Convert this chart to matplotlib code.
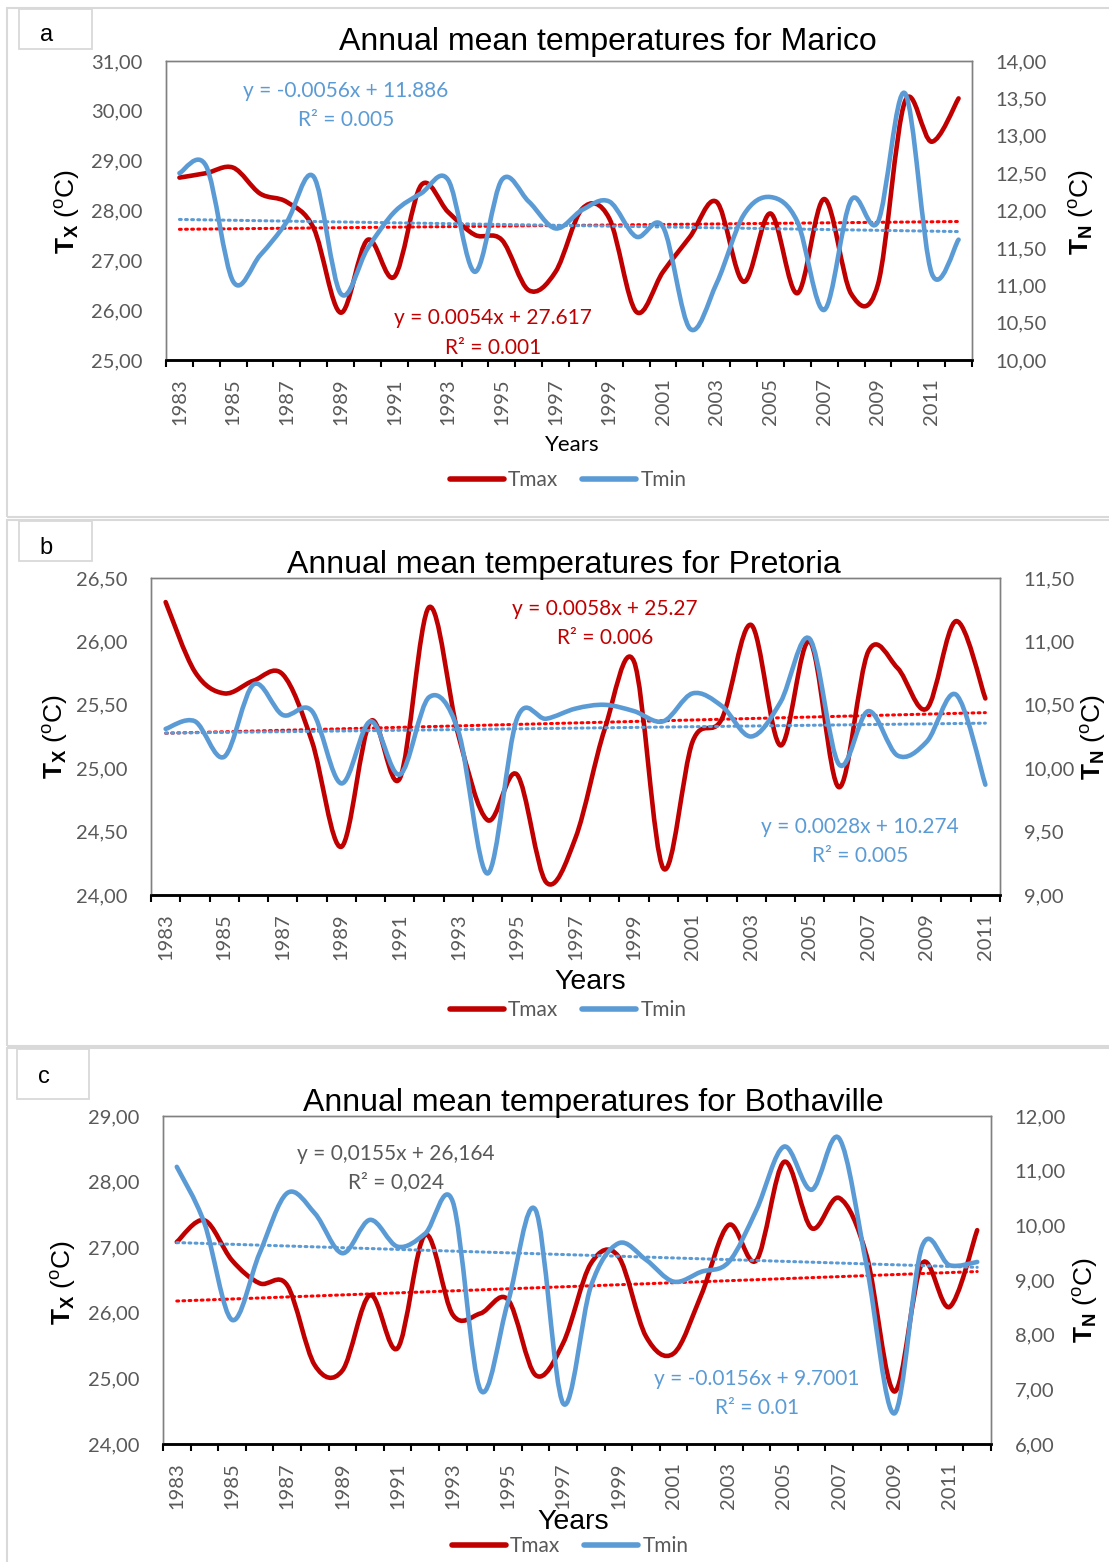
import numpy as np
import matplotlib
matplotlib.use('Agg')
import matplotlib.pyplot as plt
from matplotlib.path import Path
from matplotlib.patches import PathPatch, Rectangle
from matplotlib.lines import Line2D

plt.rcParams['font.family'] = ['Lato', 'DejaVu Sans']
plt.rcParams['mathtext.fontset'] = 'custom'
plt.rcParams['mathtext.rm'] = 'Liberation Sans'
plt.rcParams['mathtext.bf'] = 'Liberation Sans:bold'
plt.rcParams['mathtext.it'] = 'Liberation Sans:italic'

# ---------------- data ----------------
years_a = list(range(1983, 2013))
tmax_a = [28.66, 28.75, 28.86, 28.34, 28.17, 27.64, 25.95, 27.41, 26.67, 28.51,
          27.97, 27.51, 27.41, 26.40, 26.77, 28.04, 27.84, 25.97, 26.77, 27.47,
          28.17, 26.57, 27.94, 26.34, 28.23, 26.33, 26.52, 30.18, 29.38, 30.25]
tmin_a = [12.50, 12.59, 11.05, 11.40, 11.85, 12.45, 10.89, 11.49, 11.98, 12.23,
          12.41, 11.18, 12.41, 12.12, 11.76, 12.01, 12.12, 11.65, 11.78, 10.42,
          11.03, 11.94, 12.18, 11.85, 10.67, 12.14, 11.85, 13.57, 11.16, 11.61]
trend_max_a = (0.0054, 27.617)
trend_min_a = (-0.0056, 11.886)

years_b = list(range(1983, 2012))
tmax_b = [26.31, 25.76, 25.59, 25.69, 25.74, 25.21, 24.38, 25.37, 24.92, 26.27,
          25.26, 24.59, 24.95, 24.10, 24.45, 25.31, 25.84, 24.21, 25.21, 25.39,
          26.13, 25.18, 26.00, 24.85, 25.92, 25.79, 25.47, 26.16, 25.55]
tmin_b = [10.31, 10.37, 10.09, 10.66, 10.42, 10.45, 9.88, 10.37, 9.95, 10.56,
          10.29, 9.17, 10.39, 10.39, 10.47, 10.50, 10.45, 10.37, 10.59, 10.49,
          10.25, 10.52, 11.02, 10.03, 10.45, 10.10, 10.21, 10.58, 9.87]
trend_max_b = (0.0058, 25.27)
trend_min_b = (0.0028, 10.274)

years_c = list(range(1983, 2013))
tmax_c = [27.08, 27.41, 26.80, 26.45, 26.42, 25.20, 25.12, 26.27, 25.46, 27.19,
          25.97, 25.99, 26.20, 25.05, 25.54, 26.75, 26.86, 25.64, 25.38, 26.27,
          27.34, 26.80, 28.30, 27.29, 27.75, 26.86, 24.80, 26.75, 26.09, 27.26]
tmin_c = [11.07, 10.04, 8.27, 9.49, 10.59, 10.22, 9.49, 10.10, 9.61, 9.85,
          10.43, 6.99, 8.60, 10.28, 6.74, 8.88, 9.67, 9.37, 8.97, 9.15,
          9.33, 10.28, 11.44, 10.65, 11.59, 9.24, 6.56, 9.61, 9.27, 9.33]
trend_max_c = (0.0155, 26.164)
trend_min_c = (-0.0156, 9.7001)

left_ticks_a = [25, 26, 27, 28, 29, 30, 31]
right_ticks_a = [10, 10.5, 11, 11.5, 12, 12.5, 13, 13.5, 14]
left_ticks_b = [24, 24.5, 25, 25.5, 26, 26.5]
right_ticks_b = [9, 9.5, 10, 10.5, 11, 11.5]
left_ticks_c = [24, 25, 26, 27, 28, 29]
right_ticks_c = [6, 7, 8, 9, 10, 11, 12]

titles = ['Annual mean temperatures for Marico',
          'Annual mean temperatures for Pretoria',
          'Annual mean temperatures for Bothaville']

# ---------------- style ----------------
RED = '#C00000'
BLUE = '#5B9BD5'
TREND_RED = '#FF0000'
GRAY_TXT = '#595959'
W, H = 1109, 1562
fig = plt.figure(figsize=(W / 100, H / 100), dpi=100)


def fx(x):
    return x / W


def fy(y):
    return 1 - y / H


def fmt(v):
    return f'{v:.2f}'.replace('.', ',')


def smooth_path(xs, ys):
    """Excel-like smoothed line: cubic Bezier through data points."""
    n = len(xs)
    pts = np.column_stack([xs, ys]).astype(float)
    verts = [pts[0]]
    codes = [Path.MOVETO]
    for i in range(n - 1):
        p0 = pts[i - 1] if i > 0 else pts[i]
        p1 = pts[i]
        p2 = pts[i + 1]
        p3 = pts[i + 2] if i + 2 < n else pts[i + 1]
        c1 = p1 + (p2 - p0) / 6.0
        c2 = p2 - (p3 - p1) / 6.0
        verts += [c1, c2, p2]
        codes += [Path.CURVE4] * 3
    return Path(verts, codes)


def frame(x0, y0, x1, y1, lw=1.5, color='#D9D9D9'):
    fig.patches.append(Rectangle((fx(x0), fy(y1)), fx(x1) - fx(x0), fy(y0) - fy(y1),
                                 transform=fig.transFigure, fill=False,
                                 edgecolor=color, lw=lw))


def panel(box, years, tmax, tmin, tr_max, tr_min, lticks, rticks, title, title_xy,
          eqs, letter, letter_box, ylab_l, ylab_r, years_lab, legend_xy):
    x0, y0, x1, y1 = box
    ax = fig.add_axes([fx(x0), fy(y1), fx(x1) - fx(x0), fy(y0) - fy(y1)])
    ax2 = ax.twinx()
    n = len(years)
    idx = np.arange(n)
    ax.set_xlim(-0.5, n - 0.5)
    ax.set_ylim(lticks[0], lticks[-1])
    ax2.set_ylim(rticks[0], rticks[-1])

    # trend lines
    xt = np.array([1, n])
    ax.plot(xt - 1, tr_max[0] * xt + tr_max[1], color=TREND_RED, lw=2.2,
            ls=(0, (0.6, 1.4)), dash_capstyle='round', zorder=3)
    ax2.plot(xt - 1, tr_min[0] * xt + tr_min[1], color=BLUE, lw=2.2,
             ls=(0, (0.6, 1.4)), dash_capstyle='round', zorder=3)

    ax.add_patch(PathPatch(smooth_path(idx, tmax), fill=False, edgecolor=RED,
                           lw=3.3, capstyle='round', joinstyle='round', zorder=4))
    ax2.add_patch(PathPatch(smooth_path(idx, tmin), fill=False, edgecolor=BLUE,
                            lw=3.3, capstyle='round', joinstyle='round', zorder=4))

    ax.set_yticks(lticks)
    ax.set_yticklabels([fmt(v) for v in lticks])
    ax2.set_yticks(rticks)
    ax2.set_yticklabels([fmt(v) for v in rticks])
    for a in (ax, ax2):
        a.tick_params(axis='y', length=0, pad=17, labelsize=14.5, labelcolor=GRAY_TXT)
    ax.set_xticks(idx[::2])
    ax.set_xticklabels([str(y) for y in years[::2]], rotation=90, va='top', ha='center')
    ax.set_xticks(np.arange(-0.5, n), minor=True)
    ax.tick_params(axis='x', which='major', length=0, pad=13, labelsize=14.5,
                   labelcolor=GRAY_TXT)
    ax.tick_params(axis='x', which='minor', length=5, width=1.5, color='black')
    for a in (ax, ax2):
        for s in ('top', 'left', 'right'):
            a.spines[s].set_color('#808080')
            a.spines[s].set_linewidth(1.0)
        a.spines['bottom'].set_color('black')
        a.spines['bottom'].set_linewidth(1.8)
    ax2.patch.set_visible(False)

    fig.text(fx(title_xy[0]), fy(title_xy[1]), title, ha='center', va='center',
             fontsize=23, family='Liberation Sans', color='black')
    for (txt, px, py, col) in eqs:
        fig.text(fx(px), fy(py), txt, ha='center', va='center', fontsize=15,
                 color=col)

    bx0, by0, bx1, by1 = letter_box
    frame(bx0, by0, bx1, by1, lw=1.3)
    fig.text(fx(letter[1]), fy(letter[2]), letter[0], ha='center', va='center',
             fontsize=17, family='Liberation Sans')

    fig.text(fx(ylab_l[0]), fy(ylab_l[1]),
             r'$\mathbf{T}_{\mathbf{X}}$ ($^{\mathrm{o}}$C)', rotation=90,
             ha='center', va='center', fontsize=19, family='Liberation Sans')
    fig.text(fx(ylab_r[0]), fy(ylab_r[1]),
             r'$\mathbf{T}_{\mathbf{N}}$ ($^{\mathrm{o}}$C)', rotation=90,
             ha='center', va='center', fontsize=19, family='Liberation Sans')

    fig.text(fx(years_lab[0]), fy(years_lab[1]), 'Years', ha='center', va='center',
             fontsize=years_lab[2], family=years_lab[3], color=years_lab[4])

    handles = [Line2D([], [], color=RED, lw=4, solid_capstyle='round'),
               Line2D([], [], color=BLUE, lw=4, solid_capstyle='round')]
    fig.legend(handles, ['Tmax', 'Tmin'], loc='center',
               bbox_to_anchor=(fx(legend_xy[0]), fy(legend_xy[1])), ncol=2,
               frameon=False, fontsize=15, handlelength=2.6, handletextpad=0.2,
               columnspacing=1.15, labelcolor=GRAY_TXT, borderpad=0)
    return ax, ax2


# outer chart frames
frame(7, 8, 1120, 517)
frame(7, 520, 1120, 1046)
frame(7, 1048, 1120, 1575)

panel((166, 61, 972, 360), years_a, tmax_a, tmin_a, trend_max_a, trend_min_a,
      left_ticks_a, right_ticks_a, titles[0], (608, 42),
      [('y = -0.0056x + 11.886', 346, 91, BLUE), ('R² = 0.005', 346, 120, BLUE),
       ('y = 0.0054x + 27.617', 493, 318, RED), ('R² = 0.001', 493, 348, RED)],
      ('a', 47, 35), (19, 9, 92, 49), (68, 212), (1081, 212),
      (572, 445, 16, 'Lato', 'black'), (568, 480))

panel((151, 578, 1000, 895), years_b, tmax_b, tmin_b, trend_max_b, trend_min_b,
      left_ticks_b, right_ticks_b, titles[1], (564, 565),
      [('y = 0.0058x + 25.27', 605, 609, RED), ('R² = 0.006', 605, 638, RED),
       ('y = 0.0028x + 10.274', 860, 827, BLUE), ('R² = 0.005', 860, 856, BLUE)],
      ('b', 46, 548), (19, 521, 92, 561), (55, 737), (1094, 737),
      (590, 982, 20.5, 'Liberation Sans', 'black'), (568, 1010))

panel((163, 1116, 991, 1444), years_c, tmax_c, tmin_c, trend_max_c, trend_min_c,
      left_ticks_c, right_ticks_c, titles[2], (593, 1103),
      [('y = 0,0155x + 26,164', 396, 1154, GRAY_TXT), ('R² = 0,024', 396, 1182, GRAY_TXT),
       ('y = -0.0156x + 9.7001', 757, 1379, BLUE), ('R² = 0.01', 757, 1408, BLUE)],
      ('c', 44, 1077), (17, 1049, 89, 1099), (63, 1283), (1085, 1300),
      (573, 1522, 20.5, 'Liberation Sans', 'black'), (570, 1546))

fig.savefig('out.png', dpi=100)
